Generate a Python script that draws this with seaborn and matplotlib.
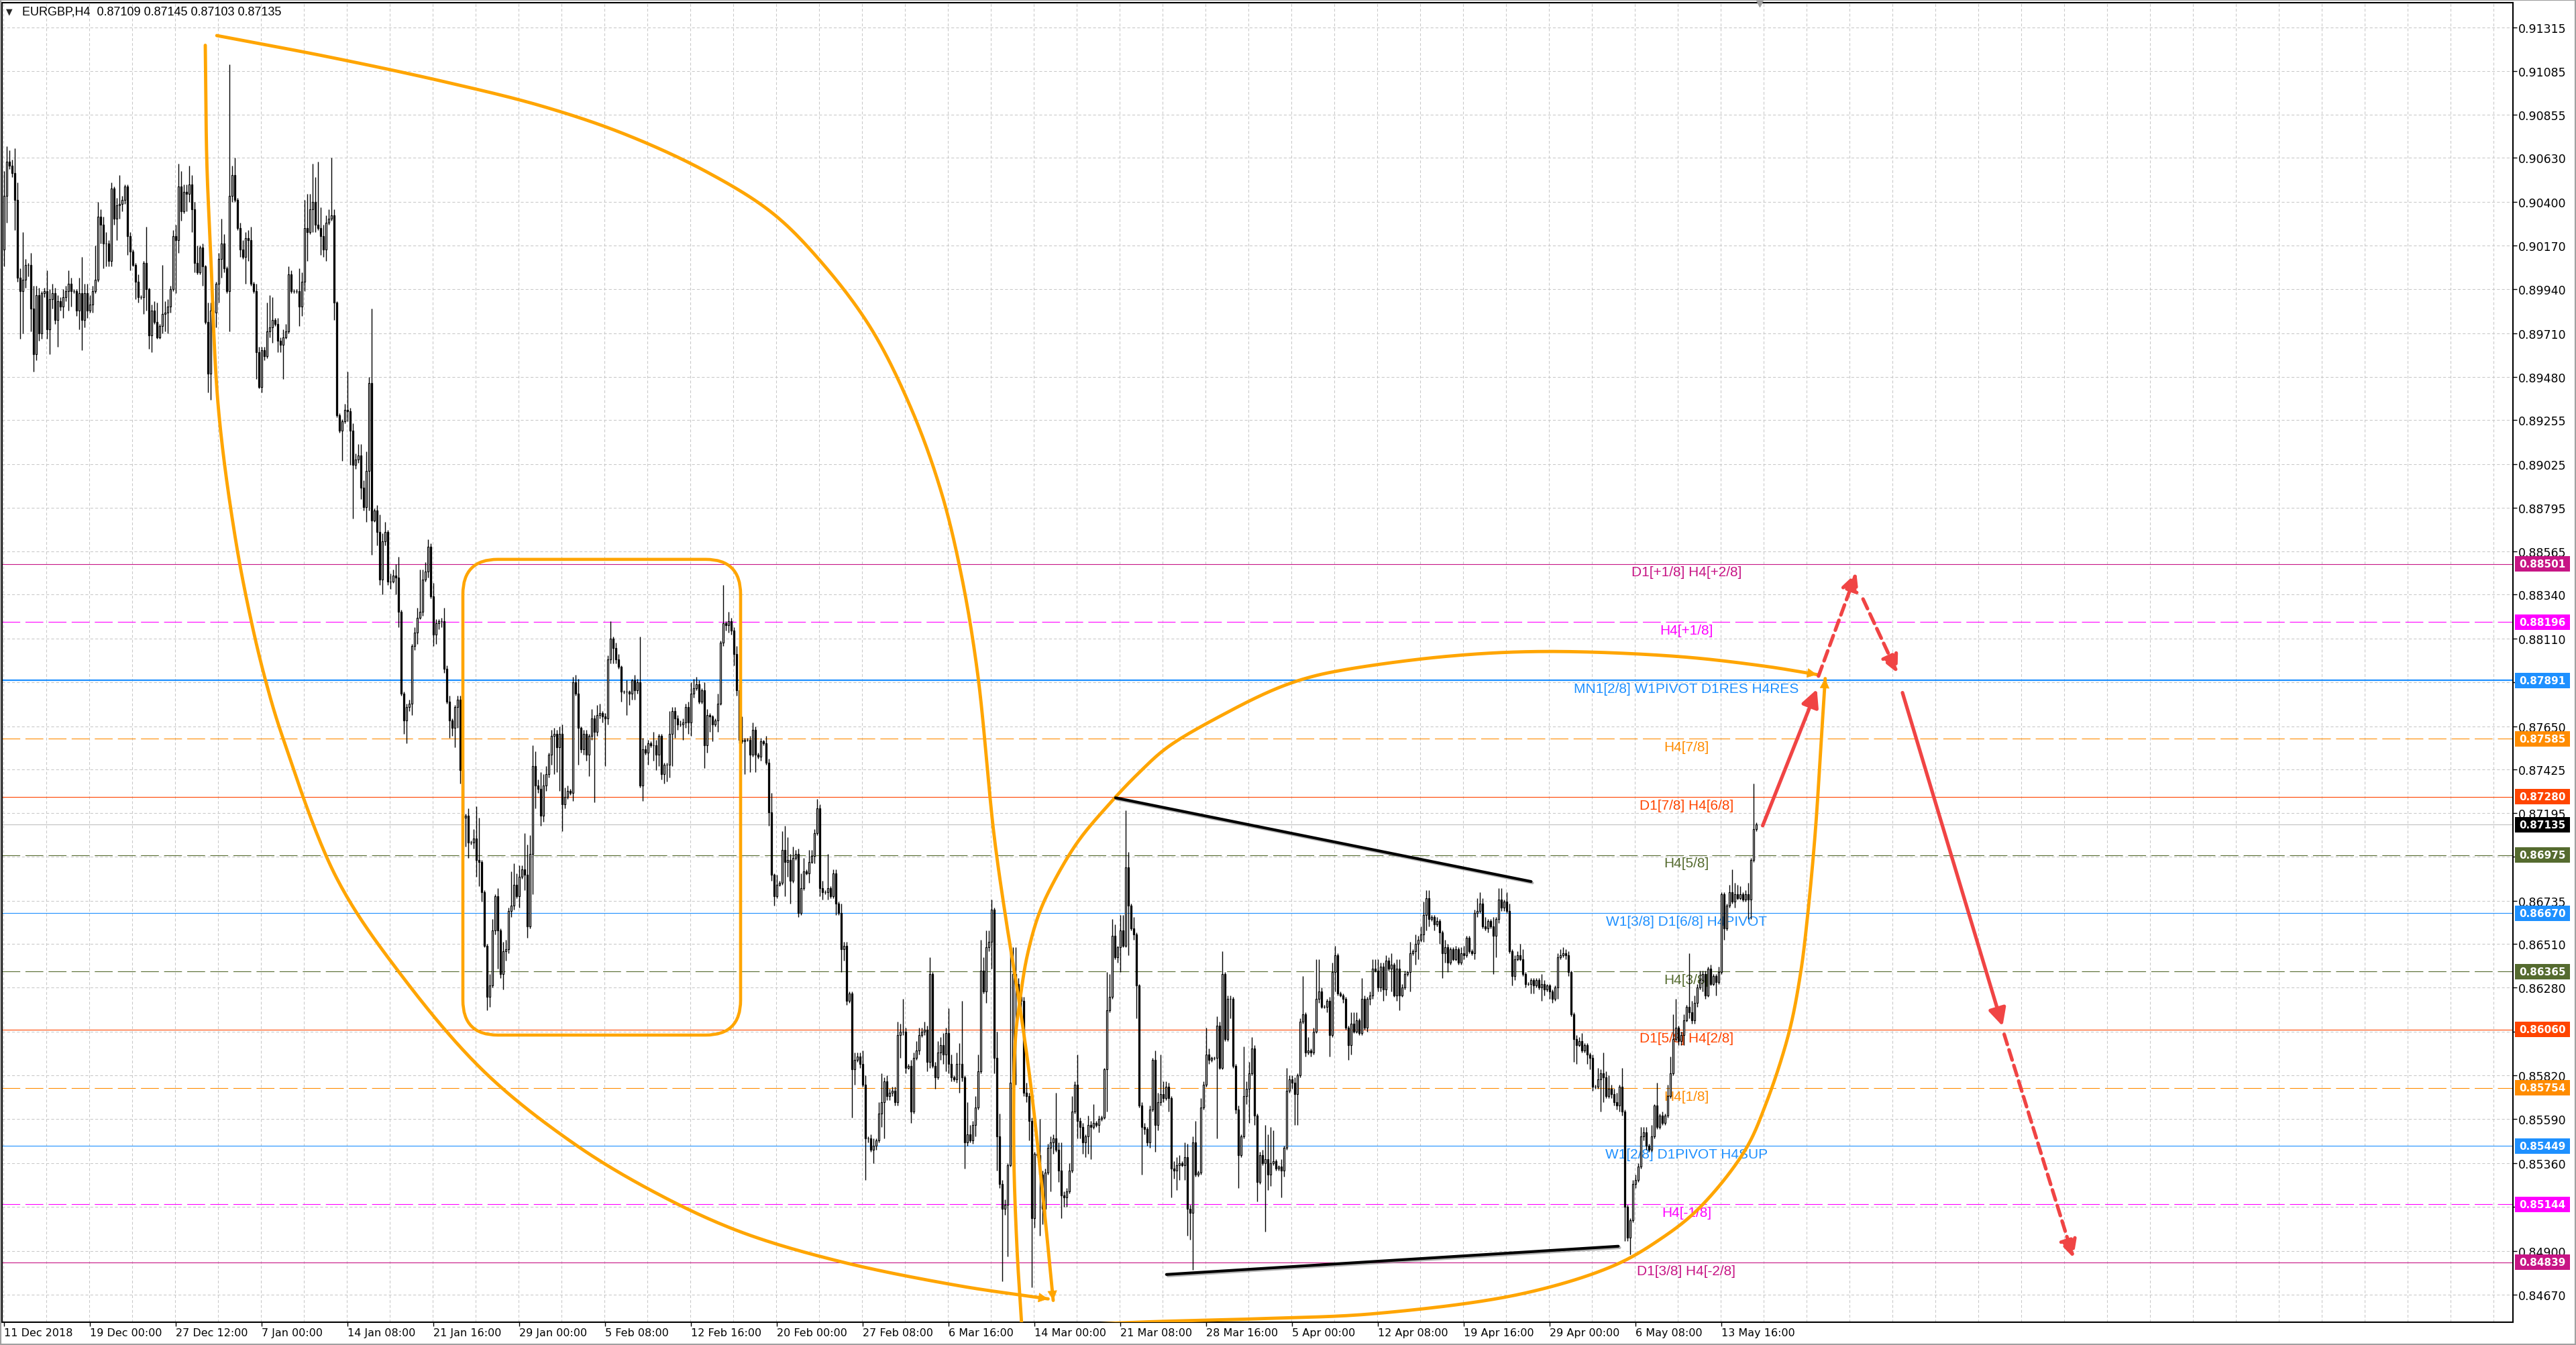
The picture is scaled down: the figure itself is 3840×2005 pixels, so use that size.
import numpy as np
import pandas as pd
import matplotlib
matplotlib.use("Agg")
import matplotlib.pyplot as plt
import matplotlib.patheffects as pe
from matplotlib.patches import FancyBboxPatch, Rectangle
from matplotlib.transforms import blended_transform_factory
import seaborn as sns

# ---------------- data (EURGBP H4, prices in pips = 1e-4) ----------------
first_open = 9015
close_pips = [
    9043, 9061, 9059, 9055, 9041, 9000, 8993, 8999, 9007, 9007,
    8984, 8960, 8991, 8971, 8992, 8993, 8973, 8989, 8992, 8978,
    8988, 8985, 8990, 8993, 8997, 8993, 8993, 8983, 8992, 8978,
    8992, 8983, 8986, 8993, 8999, 9032, 9028, 9018, 9018, 9009,
    9047, 9031, 9038, 9039, 9041, 9048, 9022, 9014, 9007, 8998,
    8990, 8990, 9008, 8994, 8970, 8983, 8977, 8969, 8975, 8981,
    8982, 8985, 8994, 9022, 9020, 9048, 9035, 9045, 9044, 9049,
    9036, 9008, 9003, 9016, 9006, 8977, 8950, 8983, 8982, 8997,
    9010, 9018, 9005, 8993, 9043, 9054, 9041, 9026, 9015, 9011,
    9021, 9020, 8997, 8993, 8961, 8943, 8962, 8959, 8972, 8974,
    8978, 8976, 8967, 8965, 8969, 8972, 9002, 8993, 8993, 8993,
    8985, 8998, 9026, 9024, 9036, 9040, 9028, 9026, 9022, 9015,
    9029, 9031, 9033, 8987, 8928, 8920, 8925, 8931, 8930, 8920,
    8902, 8905, 8907, 8890, 8880, 8899, 8945, 8873, 8878, 8867,
    8842, 8862, 8867, 8841, 8841, 8844, 8843, 8825, 8782, 8768,
    8775, 8777, 8807, 8814, 8822, 8825, 8842, 8846, 8859, 8833,
    8813, 8819, 8820, 8820, 8795, 8778, 8768, 8764, 8775, 8779,
    8742, 8717, 8718, 8704, 8704, 8706, 8695, 8694, 8678, 8650,
    8623, 8629, 8658, 8676, 8658, 8635, 8647, 8648, 8668, 8671,
    8682, 8676, 8686, 8690, 8687, 8660, 8698, 8744, 8734, 8732,
    8718, 8734, 8740, 8750, 8760, 8761, 8754, 8761, 8724, 8728,
    8731, 8730, 8788, 8782, 8764, 8753, 8761, 8750, 8760, 8769,
    8762, 8771, 8772, 8770, 8769, 8800, 8811, 8806, 8800, 8796,
    8783, 8783, 8783, 8782, 8789, 8784, 8788, 8734, 8753, 8751,
    8756, 8755, 8755, 8750, 8760, 8740, 8745, 8745, 8761, 8773,
    8769, 8766, 8766, 8767, 8775, 8767, 8782, 8785, 8787, 8778,
    8784, 8755, 8771, 8770, 8766, 8768, 8777, 8809, 8819, 8818,
    8820, 8815, 8803, 8784, 8758, 8757, 8758, 8758, 8750, 8763,
    8750, 8749, 8757, 8756, 8746, 8720, 8687, 8676, 8682, 8683,
    8700, 8694, 8695, 8684, 8696, 8698, 8667, 8680, 8689, 8688,
    8694, 8697, 8709, 8722, 8680, 8678, 8678, 8680, 8676, 8688,
    8672, 8667, 8648, 8650, 8621, 8625, 8585, 8590, 8592, 8588,
    8577, 8549, 8549, 8543, 8545, 8548, 8562, 8568, 8579, 8571,
    8573, 8574, 8568, 8603, 8605, 8605, 8586, 8587, 8563, 8591,
    8595, 8603, 8605, 8606, 8589, 8635, 8587, 8581, 8594, 8598,
    8593, 8604, 8588, 8581, 8580, 8588, 8588, 8581, 8547, 8551,
    8548, 8556, 8565, 8584, 8637, 8626, 8649, 8652, 8669, 8591,
    8550, 8525, 8512, 8514, 8535, 8578, 8635, 8630, 8623, 8621,
    8573, 8571, 8558, 8507, 8541, 8540, 8530, 8512, 8531, 8544,
    8547, 8549, 8543, 8532, 8519, 8518, 8521, 8532, 8563, 8577,
    8558, 8555, 8547, 8550, 8556, 8555, 8557, 8556, 8559, 8560,
    8585, 8616, 8623, 8655, 8644, 8649, 8658, 8650, 8691, 8671,
    8659, 8656, 8629, 8566, 8555, 8554, 8547, 8564, 8590, 8556,
    8568, 8572, 8570, 8576, 8570, 8533, 8532, 8535, 8536, 8535,
    8539, 8512, 8510, 8547, 8530, 8531, 8565, 8577, 8593, 8590,
    8591, 8591, 8608, 8586, 8635, 8601, 8622, 8622, 8587, 8564,
    8540, 8550, 8571, 8575, 8583, 8596, 8561, 8526, 8540, 8536,
    8538, 8530, 8536, 8537, 8533, 8534, 8532, 8544, 8574, 8580,
    8578, 8572, 8582, 8610, 8614, 8594, 8595, 8594, 8605, 8622,
    8626, 8618, 8618, 8621, 8603, 8636, 8645, 8625, 8624, 8622,
    8607, 8598, 8609, 8605, 8611, 8604, 8622, 8607, 8622, 8624,
    8638, 8637, 8628, 8639, 8627, 8642, 8638, 8640, 8624, 8638,
    8624, 8628, 8635, 8636, 8646, 8647, 8651, 8653, 8656, 8666,
    8675, 8664, 8665, 8661, 8663, 8657, 8646, 8649, 8641, 8648,
    8643, 8648, 8641, 8646, 8645, 8654, 8647, 8646, 8667, 8668,
    8672, 8660, 8659, 8663, 8660, 8655, 8664, 8674, 8670, 8673,
    8668, 8647, 8634, 8643, 8645, 8643, 8635, 8630, 8630, 8632,
    8629, 8632, 8628, 8630, 8627, 8629, 8626, 8622, 8628, 8644,
    8645, 8646, 8645, 8636, 8614, 8601, 8598, 8600, 8595, 8598,
    8593, 8591, 8576, 8576, 8580, 8583, 8581, 8571, 8575, 8572,
    8568, 8566, 8576, 8563, 8513, 8497, 8506, 8525, 8527, 8534,
    8550, 8552, 8545, 8543, 8550, 8566, 8555, 8561, 8557, 8561,
    8571, 8583, 8601, 8607, 8600, 8603, 8611, 8618, 8615, 8611,
    8620, 8628, 8632, 8635, 8624, 8638, 8630, 8634, 8631, 8636,
    8677, 8659, 8671, 8678, 8673, 8677, 8675, 8677, 8674, 8677,
    8674, 8695, 8711, 8713.5,
]
wick_up = [
    13, 8, 6, 3, 13, 9, 5, 25, 3, 1,
    6, 12, 5, 4, 1, 2, 11, 5, 5, 3,
    3, 2, 4, 3, 7, 3, 1, 1, 8, 19,
    5, 5, 5, 3, 18, 8, 4, 4, 6, 2,
    3, 1, 4, 15, 2, 1, 1, 2, 1, 1,
    4, 1, 1, 19, 1, 3, 5, 10, 1, 26,
    6, 4, 2, 3, 6, 12, 8, 4, 4, 10,
    5, 4, 9, 1, 2, 1, 10, 4, 5, 1,
    3, 13, 5, 1, 69, 5, 9, 1, 3, 5,
    3, 4, 7, 1, 4, 3, 2, 2, 15, 17,
    12, 1, 3, 2, 4, 4, 4, 2, 1, 1,
    12, 5, 15, 18, 8, 20, 13, 33, 11, 6,
    4, 5, 30, 3, 1, 1, 1, 3, 20, 2,
    4, 3, 6, 6, 4, 10, 3, 39, 1, 3,
    9, 4, 5, 1, 4, 3, 6, 11, 1, 1,
    2, 2, 1, 3, 5, 22, 5, 5, 4, 2,
    7, 2, 1, 2, 7, 2, 3, 1, 1, 2,
    2, 1, 1, 4, 1, 5, 17, 22, 1, 1,
    1, 6, 6, 1, 4, 1, 5, 5, 2, 18,
    11, 6, 6, 2, 19, 16, 10, 11, 8, 3,
    9, 6, 4, 1, 3, 3, 2, 4, 5, 5,
    3, 1, 3, 4, 8, 1, 2, 2, 1, 5,
    2, 5, 5, 1, 2, 2, 9, 1, 3, 3,
    1, 1, 6, 1, 1, 3, 2, 24, 6, 2,
    2, 1, 7, 3, 1, 1, 1, 1, 12, 2,
    2, 2, 2, 2, 2, 3, 6, 5, 4, 2,
    1, 4, 3, 1, 1, 1, 5, 1, 20, 1,
    5, 2, 2, 4, 3, 12, 1, 1, 2, 4,
    2, 1, 2, 1, 4, 2, 10, 1, 5, 1,
    10, 13, 12, 3, 6, 2, 3, 8, 7, 1,
    6, 3, 2, 5, 2, 4, 1, 18, 1, 2,
    2, 1, 5, 2, 2, 1, 1, 4, 2, 2,
    7, 5, 1, 2, 4, 1, 6, 15, 2, 3,
    2, 2, 2, 7, 4, 17, 2, 1, 3, 3,
    5, 4, 2, 4, 2, 9, 1, 2, 6, 4,
    6, 3, 13, 5, 1, 6, 11, 33, 1, 17,
    5, 2, 6, 9, 16, 7, 9, 6, 5, 1,
    14, 12, 2, 3, 1, 73, 14, 14, 3, 1,
    2, 5, 2, 2, 1, 1, 19, 2, 2, 2,
    3, 2, 24, 4, 15, 2, 2, 4, 8, 2,
    16, 2, 2, 1, 5, 2, 10, 1, 2, 1,
    1, 20, 12, 9, 6, 1, 8, 8, 30, 8,
    1, 6, 1, 1, 2, 2, 1, 2, 1, 5,
    5, 21, 7, 3, 2, 1, 4, 4, 4, 1,
    8, 7, 2, 3, 11, 1, 5, 2, 14, 3,
    1, 1, 5, 2, 12, 1, 2, 2, 1, 1,
    2, 1, 26, 4, 6, 6, 2, 1, 2, 3,
    18, 13, 19, 16, 1, 1, 4, 1, 12, 2,
    2, 3, 1, 2, 20, 1, 7, 1, 2, 21,
    17, 2, 1, 1, 2, 5, 5, 1, 1, 1,
    1, 1, 6, 6, 4, 1, 11, 2, 1, 2,
    5, 5, 6, 2, 2, 3, 2, 6, 1, 5,
    5, 2, 2, 1, 6, 1, 5, 2, 4, 7,
    4, 4, 1, 1, 2, 1, 1, 4, 2, 1,
    1, 2, 1, 3, 4, 1, 1, 1, 2, 7,
    6, 3, 5, 1, 1, 5, 1, 6, 6, 1,
    5, 4, 1, 2, 2, 6, 5, 1, 1, 1,
    1, 1, 1, 5, 2, 1, 1, 1, 1, 2,
    3, 3, 2, 2, 1, 1, 2, 2, 4, 1,
    1, 1, 2, 1, 6, 2, 11, 3, 7, 2,
    3, 5, 1, 10, 1, 1, 1, 2, 3, 2,
    5, 3, 3, 1, 6, 1, 12, 1, 2, 1,
    6, 9, 13, 15, 1, 2, 3, 1, 28, 6,
    4, 2, 5, 2, 2, 1, 2, 1, 1, 3,
    1, 1, 1, 4, 12, 6, 5, 4, 1, 2,
    6, 1, 24, 1,
]
wick_dn = [
    9, 14, 2, 2, 16, 2, 25, 22, 4, 6,
    12, 9, 3, 4, 3, 2, 5, 13, 5, 2,
    14, 2, 6, 2, 10, 8, 1, 3, 10, 16,
    4, 4, 1, 4, 1, 1, 10, 13, 12, 3,
    3, 3, 11, 7, 4, 2, 10, 10, 1, 9,
    3, 1, 9, 11, 7, 9, 1, 1, 1, 4,
    9, 11, 3, 1, 28, 7, 5, 1, 9, 4,
    12, 5, 1, 1, 10, 1, 10, 14, 3, 8,
    10, 10, 2, 1, 21, 3, 1, 1, 4, 1,
    14, 11, 1, 1, 14, 1, 3, 2, 1, 3,
    8, 1, 6, 4, 18, 1, 1, 1, 1, 1,
    10, 5, 5, 15, 1, 12, 4, 1, 10, 4,
    6, 1, 1, 9, 1, 1, 16, 1, 5, 18,
    28, 2, 2, 6, 2, 8, 21, 18, 1, 7,
    3, 8, 2, 2, 4, 1, 9, 8, 1, 7,
    12, 2, 6, 2, 6, 1, 2, 1, 3, 1,
    6, 5, 3, 3, 2, 1, 9, 4, 10, 11,
    7, 1, 15, 8, 1, 3, 9, 13, 5, 1,
    7, 5, 1, 2, 20, 2, 8, 5, 2, 3,
    2, 1, 6, 1, 8, 6, 1, 21, 12, 2,
    5, 3, 3, 2, 5, 20, 13, 23, 14, 2,
    1, 1, 4, 1, 19, 2, 3, 3, 11, 2,
    37, 2, 2, 3, 25, 3, 2, 8, 2, 1,
    5, 1, 12, 6, 3, 5, 2, 1, 8, 1,
    6, 1, 8, 8, 6, 3, 5, 9, 7, 17,
    10, 3, 1, 8, 3, 6, 7, 2, 1, 1,
    1, 12, 4, 8, 9, 1, 6, 1, 2, 3,
    4, 2, 6, 3, 2, 1, 17, 1, 9, 1,
    9, 1, 2, 1, 1, 7, 3, 5, 1, 1,
    1, 18, 8, 12, 1, 1, 2, 1, 1, 1,
    5, 1, 4, 1, 4, 4, 1, 4, 1, 1,
    6, 1, 12, 6, 2, 1, 25, 8, 1, 2,
    1, 22, 2, 1, 7, 2, 1, 7, 19, 2,
    2, 2, 2, 2, 12, 2, 3, 1, 6, 1,
    1, 2, 1, 2, 5, 3, 1, 6, 1, 4,
    5, 9, 5, 2, 1, 2, 15, 2, 14, 2,
    1, 2, 6, 1, 1, 1, 6, 2, 14, 8,
    18, 2, 38, 3, 27, 1, 1, 53, 1, 7,
    2, 3, 10, 36, 5, 1, 32, 8, 7, 1,
    23, 6, 1, 6, 12, 5, 5, 1, 1, 1,
    9, 6, 6, 8, 9, 17, 1, 1, 4, 1,
    1, 22, 1, 1, 1, 3, 13, 1, 1, 26,
    1, 3, 17, 1, 25, 3, 2, 3, 1, 14,
    3, 2, 2, 1, 7, 15, 4, 10, 8, 1,
    8, 14, 14, 30, 1, 1, 1, 1, 1, 2,
    1, 1, 42, 1, 1, 1, 1, 10, 1, 2,
    17, 1, 1, 4, 18, 1, 5, 10, 1, 1,
    36, 8, 6, 1, 1, 1, 14, 3, 1, 1,
    3, 16, 16, 1, 1, 2, 1, 2, 1, 1,
    2, 1, 1, 3, 11, 1, 10, 1, 1, 2,
    1, 8, 5, 1, 1, 1, 1, 1, 2, 3,
    2, 1, 2, 2, 6, 3, 1, 12, 1, 3,
    8, 1, 1, 1, 10, 1, 7, 8, 1, 4,
    8, 4, 1, 3, 1, 6, 13, 5, 5, 1,
    1, 1, 1, 1, 2, 1, 1, 1, 3, 2,
    1, 1, 1, 2, 1, 20, 11, 2, 2, 2,
    1, 1, 5, 2, 1, 1, 1, 2, 1, 5,
    4, 1, 1, 7, 3, 1, 4, 2, 1, 6,
    1, 1, 2, 2, 1, 12, 10, 1, 1, 1,
    5, 6, 2, 1, 1, 17, 13, 1, 1, 2,
    2, 2, 3, 2, 18, 2, 9, 1, 2, 1,
    1, 2, 2, 1, 1, 1, 1, 1, 1, 1,
    1, 1, 1, 1, 2, 2, 5, 1, 3, 2,
    2, 2, 1, 6, 2, 1, 1, 1, 7, 1,
    1, 6, 1, 1, 1, 3, 1, 1, 1, 1,
    10, 10, 1, 1,
]

date_labels = ['11 Dec 2018', '19 Dec 00:00', '27 Dec 12:00', '7 Jan 00:00', '14 Jan 08:00',
               '21 Jan 16:00', '29 Jan 00:00', '5 Feb 08:00', '12 Feb 16:00', '20 Feb 00:00',
               '27 Feb 08:00', '6 Mar 16:00', '14 Mar 00:00', '21 Mar 08:00', '28 Mar 16:00',
               '5 Apr 00:00', '12 Apr 08:00', '19 Apr 16:00', '29 Apr 00:00', '6 May 08:00',
               '13 May 16:00']
label_step = 32   # bars between date labels

price_ticks = [0.91315, 0.91085, 0.90855, 0.90630, 0.90400, 0.90170, 0.89940, 0.89710,
               0.89480, 0.89255, 0.89025, 0.88795, 0.88565, 0.88340, 0.88110, 0.87880,
               0.87650, 0.87425, 0.87195, 0.86965, 0.86735, 0.86510, 0.86280, 0.86050,
               0.85820, 0.85590, 0.85360, 0.85130, 0.84900, 0.84670]

# murrey / pivot levels
levels = [0.88501, 0.88196, 0.87891, 0.87585, 0.87280, 0.86975, 0.86670,
          0.86365, 0.86060, 0.85754, 0.85449, 0.85144, 0.84839]
level_names = ['D1[+1/8] H4[+2/8]', 'H4[+1/8]', 'MN1[2/8] W1PIVOT D1RES H4RES', 'H4[7/8]',
               'D1[7/8] H4[6/8]', 'H4[5/8]', 'W1[3/8] D1[6/8] H4PIVOT', 'H4[3/8]',
               'D1[5/8] H4[2/8]', 'H4[1/8]', 'W1[2/8] D1PIVOT H4SUP', 'H4[-1/8]',
               'D1[3/8] H4[-2/8]']
level_colors = ['#C71585', '#FF00FF', '#1E90FF', '#FF8C00', '#FF4500', '#556B2F', '#1E90FF',
                '#556B2F', '#FF4500', '#FF8C00', '#1E90FF', '#FF00FF', '#C71585']
level_dashed = [False, True, False, True, False, True, False, True, False, True, False, True, False]
last_price = 0.87135

# hand drawn objects, points as (bar, price in pips)
arc_left_a = [(75.0, 9122.0), (75.6, 9060.0), (76.9, 9016.9), (79.9, 8931.6), (86.1, 8864.5),
              (92.2, 8819.7), (97.7, 8787.8), (103.8, 8759.4), (124.0, 8685.3), (148.5, 8633.7),
              (179.1, 8583.7), (212.8, 8545.8), (243.4, 8520.0), (274.0, 8500.2), (310.7, 8484.7),
              (355.4, 8471.8), (389.1, 8464.8)]
arc_left_b = [(79.3, 9127.1), (121.0, 9115.9), (163.8, 9103.0), (200.5, 9090.1), (231.2, 9075.5),
              (261.8, 9055.7), (286.3, 9034.1), (304.6, 9008.3), (323.0, 8973.8), (338.3, 8930.8),
              (349.3, 8887.7), (356.7, 8844.7), (362.8, 8793.0), (368.9, 8708.6), (373.2, 8665.5),
              (378.1, 8622.4), (382.4, 8579.4), (386.7, 8525.1), (391.0, 8464.0)]
arc_right_c = [(379.3, 8450.2), (377.5, 8491.5), (376.3, 8543.2), (376.9, 8600.9),
               (378.7, 8622.4), (381.2, 8644.0), (385.4, 8665.5), (390.3, 8681.0), (400.1, 8704.3),
               (411.8, 8724.1), (422.8, 8740.4), (433.8, 8754.2), (455.9, 8772.3), (473.6, 8784.4),
               (485.8, 8790.4), (499.9, 8794.7), (537.3, 8801.6), (573.4, 8804.2), (623.6, 8801.6),
               (656.7, 8796.4), (675.6, 8792.1)]
arc_right_d = [(384.2, 8450.2), (427.1, 8452.8), (469.9, 8454.5), (511.0, 8457.1), (565.4, 8467.4),
               (599.7, 8482.1), (616.9, 8495.8), (631.6, 8512.2), (648.7, 8542.4), (656.7, 8567.4),
               (665.2, 8604.4), (669.5, 8635.4), (672.0, 8663.8), (675.0, 8709.5), (677.5, 8763.8),
               (678.7, 8790.0)]
range_box = (171.0, 274.5, 8603.1, 8852.5)
trend_upper = [(414.2, 8727.5), (569.1, 8683.6)]
trend_lower = [(433.2, 8477.6), (601.6, 8492.4)]
red_arrows = [((655.4, 8712.9), (675.6, 8784.4), False),
              ((676.2, 8791.3), (690.3, 8845.5), True),
              ((692.8, 8831.7), (705.6, 8793.0), True),
              ((707.5, 8782.6), (744.8, 8607.8), False),
              ((745.4, 8603.5), (771.2, 8486.4), True)]

# ---------------- figure ----------------
sns.set_theme(style="white")
plt.rcParams['font.family'] = ['Liberation Sans', 'DejaVu Sans']

W, H = 3840, 2006
left, right, top, bottom = 3, 3746, 5, 1972
fig = plt.figure(figsize=(W / 100, H / 100), dpi=100)
fig.patch.set_facecolor('white')
ax = fig.add_axes([left / W, 1 - bottom / H, (right - left) / W, (bottom - top) / H])
ax.set_facecolor('white')

xmin, xmax = -0.75, 935.0
ymin, ymax = 0.845258, 0.914434
ax.set_xlim(xmin, xmax)
ax.set_ylim(ymin, ymax)
px_per_bar = (right - left) / (xmax - xmin)
px_per_price = (bottom - top) / (ymax - ymin)

n = len(close_pips)
bars = np.arange(n)
df = pd.DataFrame({'close': np.array(close_pips, float)})
df['open'] = df['close'].shift(1).fillna(first_open)
df['top'] = df[['open', 'close']].max(axis=1)
df['bot'] = df[['open', 'close']].min(axis=1)
df['high'] = df['top'] + np.array(wick_up, float)
df['low'] = df['bot'] - np.array(wick_dn, float)
df = df / 1e4

# grid
grid_kw = dict(color='#c8c8c8', lw=0.75, ls=(0, (4, 3)), zorder=1)
for p in price_ticks:
    ax.axhline(p, **grid_kw)
for b in np.arange(0, xmax, 16):
    ax.axvline(b - 0.25, **grid_kw)

# levels
for lv, name, col, dashed in zip(levels, level_names, level_colors, level_dashed):
    lw = 1.6 if lv == 0.87891 else 0.8
    ls = (0, (24, 7)) if dashed else '-'
    ax.axhline(lv, color=col, lw=lw, ls=ls, zorder=2)
    ax.annotate(name, xy=(627, lv), xytext=(0, -2), textcoords='offset points',
                ha='center', va='top', color=col, fontsize=15, zorder=2.6)
ax.axhline(last_price, color='#c0c0c0', lw=0.8, zorder=2)

# candles
ax.vlines(bars, df['low'], df['high'], color='black', lw=1.0, zorder=3)
bull = (df['close'] >= df['open']).values
ax.bar(bars[bull], (df['top'] - df['bot'])[bull], bottom=df['bot'][bull], width=0.7,
       color='white', edgecolor='black', linewidth=0.9, zorder=4)
ax.bar(bars[~bull], (df['top'] - df['bot'])[~bull], bottom=df['bot'][~bull], width=0.7,
       color='black', edgecolor='black', linewidth=0.9, zorder=4)


def smooth_curve(pts, k=24, alpha=0.5):
    # centripetal Catmull-Rom through the given points, evaluated in pixel space
    scale = np.array([px_per_bar, px_per_price / 1e4])
    p = np.asarray(pts, float) * scale
    p = np.vstack([2 * p[0] - p[1], p, 2 * p[-1] - p[-2]])
    out = []
    for i in range(1, len(p) - 2):
        p0, p1, p2, p3 = p[i - 1], p[i], p[i + 1], p[i + 2]
        t0 = 0.0
        t1 = t0 + np.linalg.norm(p1 - p0) ** alpha
        t2 = t1 + np.linalg.norm(p2 - p1) ** alpha
        t3 = t2 + np.linalg.norm(p3 - p2) ** alpha
        t = np.linspace(t1, t2, k, endpoint=False)[:, None]
        a1 = (t1 - t) / (t1 - t0) * p0 + (t - t0) / (t1 - t0) * p1
        a2 = (t2 - t) / (t2 - t1) * p1 + (t - t1) / (t2 - t1) * p2
        a3 = (t3 - t) / (t3 - t2) * p2 + (t - t2) / (t3 - t2) * p3
        b1 = (t2 - t) / (t2 - t0) * a1 + (t - t0) / (t2 - t0) * a2
        b2 = (t3 - t) / (t3 - t1) * a2 + (t - t1) / (t3 - t1) * a3
        out.append((t2 - t) / (t2 - t1) * b1 + (t - t1) / (t2 - t1) * b2)
    out.append(p[-2][None, :])
    return np.vstack(out) / scale


orange = '#FFA500'
for pts in [arc_left_a, arc_left_b, arc_right_c, arc_right_d]:
    c = smooth_curve(pts)
    ax.plot(c[:, 0], c[:, 1] / 1e4, color=orange, lw=3.5, solid_capstyle='round', zorder=6)
    ax.annotate('', xy=(c[-1, 0], c[-1, 1] / 1e4), xytext=(c[-9, 0], c[-9, 1] / 1e4),
                arrowprops=dict(arrowstyle='-|>', color=orange, lw=0.5, mutation_scale=24,
                                shrinkA=0, shrinkB=0), zorder=6)

aspect = (1 / px_per_price) / (1 / px_per_bar)
x0, x1, y0, y1 = range_box
ax.add_patch(FancyBboxPatch((x0, y0 / 1e4), x1 - x0, (y1 - y0) / 1e4,
                            boxstyle='round,pad=0,rounding_size=13', mutation_aspect=aspect,
                            fill=False, ec=orange, lw=3.3, zorder=6))

# trend lines
shadow = [pe.SimpleLineShadow(offset=(1.5, -1.5), shadow_color='#808080', alpha=0.6), pe.Normal()]
for seg in [trend_upper, trend_lower]:
    sns.lineplot(x=[seg[0][0], seg[1][0]], y=[seg[0][1] / 1e4, seg[1][1] / 1e4], ax=ax,
                 color='black', linewidth=3.0, zorder=6, path_effects=shadow)

# forecast arrows
red = '#F04444'
for (sx, sy), (ex, ey), dashed in red_arrows:
    ax.annotate('', xy=(ex, ey / 1e4), xytext=(sx, sy / 1e4),
                arrowprops=dict(arrowstyle='-|>,head_length=0.6,head_width=0.3', color=red,
                                lw=3.8, ls=(0, (3, 1.6)) if dashed else '-', mutation_scale=26,
                                shrinkA=0, shrinkB=0), zorder=7)

# axes styling
for s in ax.spines.values():
    s.set_color('black')
    s.set_linewidth(1.5)
ax.yaxis.tick_right()
ax.set_yticks(price_ticks)
ax.set_yticklabels([f'{p:.5f}' for p in price_ticks], family=['DejaVu Sans'])
ax.tick_params(axis='y', right=True, left=False, length=4, width=1, pad=2,
               labelsize=12.5, colors='black')
ax.set_xticks(np.arange(len(date_labels)) * label_step)
ax.set_xticklabels(date_labels, ha='left', family=['DejaVu Sans'])
ax.tick_params(axis='x', bottom=True, length=4, width=1, pad=2, labelsize=11.5, colors='black')
ax.grid(False)

# price boxes on the right scale
trans = blended_transform_factory(ax.transAxes, ax.transData)
box_w = 82 / (right - left)
box_x = (3749 - left) / (right - left)
box_h = 23 / px_per_price
for lv, col in list(zip(levels, level_colors)) + [(last_price, 'black')]:
    ax.add_patch(Rectangle((box_x, lv - box_h / 2), box_w, box_h, transform=trans, fc=col,
                           ec='none', clip_on=False, zorder=8))
    ax.text(box_x + box_w / 2, lv, f'{lv:.5f}', transform=trans, ha='center', va='center',
            color='white', fontsize=11, fontweight='bold', family=['DejaVu Sans'],
            zorder=9, clip_on=False)

# chart shift marker
ax.plot([654.25], [ymax], marker='v', ms=9, color='#A0A0A0', clip_on=False, zorder=10)

# title
fig.text(9 / W, 1 - 18 / H, '\u25bc', fontsize=9, va='center', family=['DejaVu Sans'])
fig.text(33 / W, 1 - 18 / H, 'EURGBP,H4  0.87109 0.87145 0.87103 0.87135', fontsize=13,
         va='center', color='black')

fig.patches.append(Rectangle((0, 0), 1, 1, transform=fig.transFigure, fill=False,
                             ec='#A0A0A0', lw=3, zorder=0))

fig.savefig('out.png', dpi=100)
